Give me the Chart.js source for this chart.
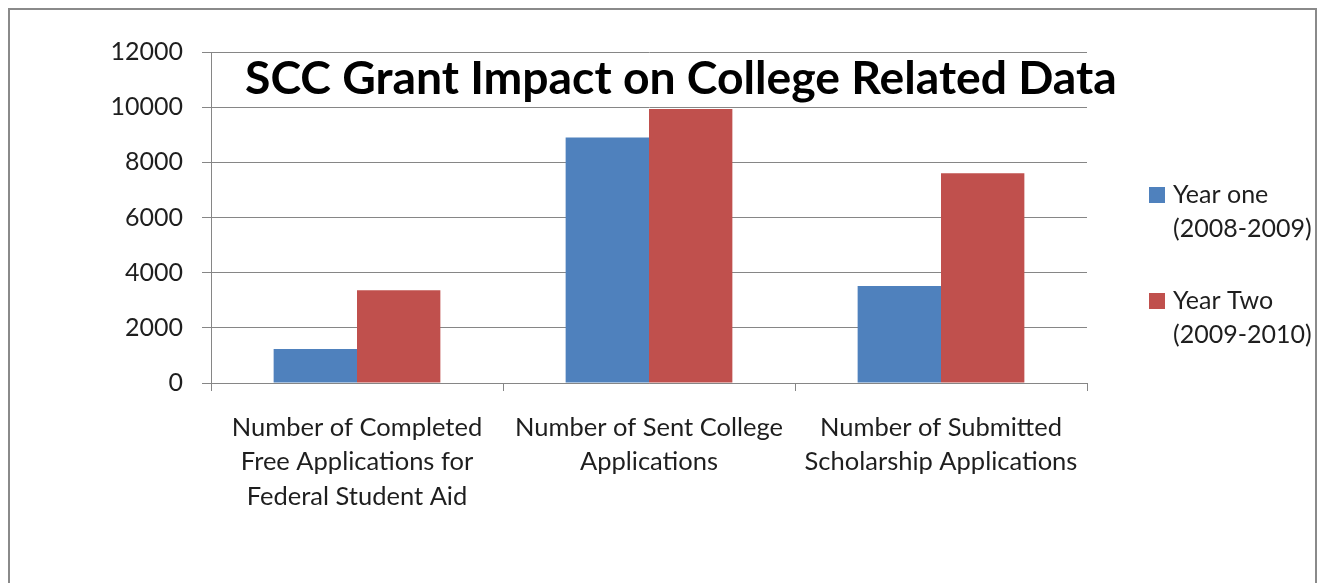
<!DOCTYPE html>
<html>
<head>
<meta charset="utf-8">
<script src="https://cdn.jsdelivr.net/npm/chart.js@4"></script>
<style>
  html, body { margin: 0; padding: 0; background: #fff; }
  #wrap { position: relative; width: 1325px; height: 583px; overflow: hidden; }
  #frame { position: absolute; left: 8px; top: 8px; width: 1309px; height: 620px; border: 2px solid #8a8a8a; box-sizing: border-box; pointer-events: none; }
  canvas { position: absolute; left: 0; top: 0; }
</style>
</head>
<body>
<div id="wrap">
  <canvas id="c" width="1325" height="583"></canvas>
  <div id="frame"></div>
</div>
<script>
const chartTitle = "SCC Grant Impact on College Related Data";
const categories = [
  ["Number of Completed", "Free Applications for", "Federal Student Aid"],
  ["Number of Sent College", "Applications"],
  ["Number of Submitted", "Scholarship Applications"]
];
const seriesNames = [["Year one", "(2008-2009)"], ["Year Two", "(2009-2010)"]];
const seriesColors = ["#4F81BD", "#C0504D"];
const yearOne = [1230, 8900, 3520];
const yearTwo = [3360, 9930, 7600];
const yMin = 0, yMax = 12000, yStep = 2000;

const FONT = "Lato, 'Open Sans', sans-serif";
const TEXT = "#1e1e1e";
const GRID = "#868686";

const titlePlugin = {
  id: "overlayTitle",
  afterDraw(chart) {
    const ctx = chart.ctx;
    ctx.save();
    ctx.font = "bold 46.3px " + FONT;
    ctx.fillStyle = "#000";
    ctx.textBaseline = "alphabetic";
    ctx.textAlign = "left";
    ctx.fillText(chartTitle, 245, 94);
    ctx.restore();
  }
};

const legendPlugin = {
  id: "sideLegend",
  afterDraw(chart) {
    const ctx = chart.ctx;
    ctx.save();
    ctx.font = "25px " + FONT;
    ctx.textBaseline = "middle";
    ctx.textAlign = "left";
    chart.data.datasets.forEach((ds, i) => {
      const top = 187 + i * 106;
      ctx.fillStyle = ds.backgroundColor;
      ctx.fillRect(1149, top, 16, 16);
      ctx.fillStyle = TEXT;
      seriesNames[i].forEach((line, j) => {
        ctx.fillText(line, 1173, top + 8 + j * 34);
      });
    });
    ctx.restore();
  }
};

new Chart(document.getElementById("c"), {
  type: "bar",
  data: {
    labels: categories,
    datasets: [
      { label: seriesNames[0].join(" "), data: yearOne, backgroundColor: seriesColors[0] },
      { label: seriesNames[1].join(" "), data: yearTwo, backgroundColor: seriesColors[1] }
    ]
  },
  options: {
    responsive: false,
    animation: false,
    devicePixelRatio: 1,
    layout: { padding: { left: 0, right: 238, top: 52, bottom: 0 } },
    datasets: { bar: { categoryPercentage: 0.571, barPercentage: 1.0 } },
    plugins: {
      legend: { display: false },
      title: { display: false },
      tooltip: { enabled: false }
    },
    scales: {
      x: {
        grid: { display: true, drawOnChartArea: false, drawTicks: true, tickLength: 8, color: GRID, offset: true },
        border: { display: true, color: GRID, width: 1 },
        ticks: { color: TEXT, font: { family: FONT, size: 25.5, lineHeight: 1.34 }, padding: 20, maxRotation: 0, autoSkip: false },
        afterFit(s) { s.height = 200; }
      },
      y: {
        min: yMin, max: yMax,
        grid: { color: GRID, drawTicks: true, tickLength: 9 },
        border: { display: true, color: GRID, width: 1 },
        ticks: { stepSize: yStep, color: TEXT, font: { family: FONT, size: 25 }, padding: 19, callback: (v) => String(v) },
        afterFit(s) { s.width = 211; }
      }
    }
  },
  plugins: [titlePlugin, legendPlugin]
});
</script>
</body>
</html>
